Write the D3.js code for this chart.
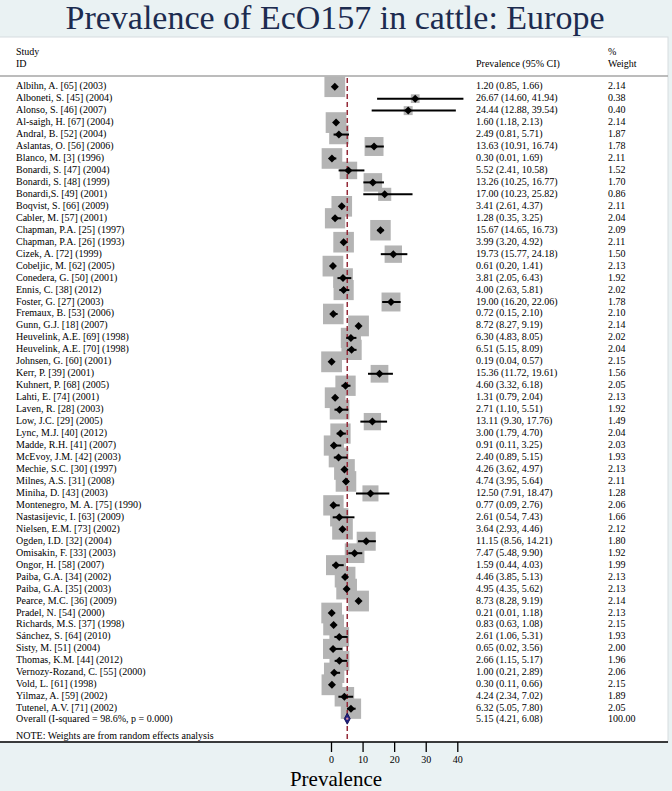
<!DOCTYPE html>
<html>
<head>
<meta charset="utf-8">
<script src="https://cdn.jsdelivr.net/npm/d3@7"></script>
<style>
  body { margin: 0; background: #eaf2f3; }
  svg { display: block; font-family: "Liberation Serif", "Times New Roman", serif; }
</style>
</head>
<body>
<div id="chart"></div>
<script>
const studies = [
  'Albihn, A. [65] (2003)', 'Alboneti, S. [45] (2004)', 'Alonso, S. [46] (2007)', 'Al-saigh, H. [67] (2004)',
  'Andral, B. [52] (2004)', 'Aslantas, O. [56] (2006)', 'Blanco, M. [3] (1996)', 'Bonardi, S. [47] (2004)',
  'Bonardi, S. [48] (1999)', 'Bonardi,S. [49] (2001)', 'Boqvist, S. [66] (2009)', 'Cabler, M. [57] (2001)',
  'Chapman, P.A. [25] (1997)', 'Chapman, P.A. [26] (1993)', 'Cizek, A. [72] (1999)', 'Cobeljic, M. [62] (2005)',
  'Conedera, G. [50] (2001)', 'Ennis, C. [38] (2012)', 'Foster, G. [27] (2003)', 'Fremaux, B. [53] (2006)',
  'Gunn, G.J. [18]  (2007)', 'Heuvelink, A.E. [69] (1998)', 'Heuvelink, A.E. [70] (1998)', 'Johnsen, G. [60] (2001)',
  'Kerr, P. [39] (2001)', 'Kuhnert, P. [68] (2005)', 'Lahti, E. [74] (2001)', 'Laven, R. [28] (2003)',
  'Low, J.C. [29] (2005)', 'Lync, M.J. [40] (2012)', 'Madde, R.H. [41] (2007)', 'McEvoy, J.M. [42] (2003)',
  'Mechie, S.C. [30] (1997)', 'Milnes, A.S. [31] (2008)', 'Miniha, D. [43] (2003)', 'Montenegro, M. A. [75] (1990)',
  'Nastasijevic, I. [63] (2009)', 'Nielsen, E.M. [73] (2002)', 'Ogden, I.D. [32] (2004)', 'Omisakin, F. [33] (2003)',
  'Ongor, H. [58] (2007)', 'Paiba, G.A. [34] (2002)', 'Paiba, G.A. [35] (2003)', 'Pearce, M.C. [36] (2009)',
  'Pradel, N. [54] (2000)', 'Richards, M.S. [37] (1998)', 'Sánchez, S. [64] (2010)', 'Sisty, M. [51] (2004)',
  'Thomas, K.M. [44] (2012)', 'Vernozy-Rozand, C. [55] (2000)', 'Vold, L. [61] (1998)', 'Yilmaz, A. [59] (2002)',
  'Tutenel, A.V. [71] (2002)'
];
const prevalence = [1.20, 26.67, 24.44, 1.60, 2.49, 13.63, 0.30, 5.52, 13.26, 17.00, 3.41, 1.28, 15.67, 3.99, 19.73, 0.61,
  3.81, 4.00, 19.00, 0.72, 8.72, 6.30, 6.51, 0.19, 15.36, 4.60, 1.31, 2.71, 13.11, 3.00, 0.91, 2.40, 4.26, 4.74, 12.50,
  0.77, 2.61, 3.64, 11.15, 7.47, 1.59, 4.46, 4.95, 8.73, 0.21, 0.83, 2.61, 0.65, 2.66, 1.00, 0.30, 4.24, 6.32];
const lower = [0.85, 14.60, 12.88, 1.18, 0.81, 10.91, 0.01, 2.41, 10.25, 10.23, 2.61, 0.35, 14.65, 3.20, 15.77, 0.20,
  2.05, 2.63, 16.20, 0.15, 8.27, 4.83, 5.15, 0.04, 11.72, 3.32, 0.79, 1.10, 9.30, 1.79, 0.11, 0.89, 3.62, 3.95, 7.91,
  0.09, 0.54, 2.93, 8.56, 5.48, 0.44, 3.85, 4.35, 8.28, 0.01, 0.63, 1.06, 0.02, 1.15, 0.21, 0.11, 2.34, 5.05];
const upper = [1.66, 41.94, 39.54, 2.13, 5.71, 16.74, 1.69, 10.58, 16.77, 25.82, 4.37, 3.25, 16.73, 4.92, 24.18, 1.41,
  6.43, 5.81, 22.06, 2.10, 9.19, 8.05, 8.09, 0.57, 19.61, 6.18, 2.04, 5.51, 17.76, 4.70, 3.25, 5.15, 4.97, 5.64, 18.47,
  2.76, 7.43, 4.46, 14.21, 9.90, 4.03, 5.13, 5.62, 9.19, 1.18, 1.08, 5.31, 3.56, 5.17, 2.89, 0.66, 7.02, 7.80];
const weights = [2.14, 0.38, 0.40, 2.14, 1.87, 1.78, 2.11, 1.52, 1.70, 0.86, 2.11, 2.04, 2.09, 2.11, 1.50, 2.13,
  1.92, 2.02, 1.78, 2.10, 2.14, 2.02, 2.04, 2.15, 1.56, 2.05, 2.13, 1.92, 1.49, 2.04, 2.03, 1.93, 2.13, 2.11, 1.28,
  2.06, 1.66, 2.12, 1.80, 1.92, 1.99, 2.13, 2.13, 2.14, 2.13, 2.15, 1.93, 2.00, 1.96, 2.06, 2.15, 1.89, 2.05];

const overallLabel = 'Overall  (I-squared = 98.6%, p = 0.000)';
const overall = { est: 5.15, lo: 4.21, hi: 6.08, weight: 100.00 };
const xTicks = [0, 10, 20, 30, 40];

const dimension = {
  width: 672,
  height: 791,
  plotTop: 37,
  plotRight: 668,
  axisY: 742
};

const fmt = v => v.toFixed(2);

const drawChart = () => {
  const data = studies.map((s, i) => ({
    id: s, est: prevalence[i], lo: lower[i], hi: upper[i], w: weights[i], row: i
  }));

  const svg = d3.select('#chart')
    .append('svg')
    .attr('width', dimension.width)
    .attr('height', dimension.height);

  // background bands
  svg.append('rect')
    .attr('width', dimension.width).attr('height', dimension.height)
    .attr('fill', '#eaf2f3');

  svg.append('rect')
    .attr('x', -1).attr('y', dimension.plotTop)
    .attr('width', dimension.plotRight + 1).attr('height', dimension.axisY - dimension.plotTop)
    .attr('fill', '#ffffff')
    .attr('stroke', '#d6dcdf');

  svg.append('text')
    .attr('x', 335).attr('y', 29)
    .attr('text-anchor', 'middle')
    .attr('font-size', 34)
    .attr('fill', '#1c2b4f')
    .text('Prevalence of EcO157 in cattle: Europe');

  const xScale = d3.scaleLinear().domain([0, 40]).range([331, 457.3]);
  const yScale = d3.scaleLinear().domain([0, studies.length - 1]).range([85.7, 707.7]);
  const boxSide = d3.scaleSqrt().domain([0, 2.15]).range([0, 20.8]);

  // headers
  const hdr = svg.append('g').attr('font-size', 10).attr('fill', '#000');
  hdr.append('text').attr('x', 16).attr('y', 55).text('Study');
  hdr.append('text').attr('x', 16).attr('y', 67).text('ID');
  hdr.append('text').attr('x', 476).attr('y', 67).text('Prevalence (95% CI)');
  hdr.append('text').attr('x', 608).attr('y', 55).text('%');
  hdr.append('text').attr('x', 608).attr('y', 67).text('Weight');

  svg.append('line')
    .attr('x1', 0).attr('x2', dimension.plotRight)
    .attr('y1', 76).attr('y2', 76)
    .attr('stroke', '#a6a6a6').attr('stroke-width', 1.5);

  // weight boxes
  svg.append('g')
    .selectAll('rect')
    .data(data)
    .join('rect')
    .attr('x', d => xScale(d.est) - boxSide(d.w) / 2)
    .attr('y', d => yScale(d.row) + 1 - boxSide(d.w) / 2)
    .attr('width', d => boxSide(d.w))
    .attr('height', d => boxSide(d.w))
    .attr('fill', '#b4b4b4');

  // reference line at overall estimate
  svg.append('line')
    .attr('x1', xScale(overall.est)).attr('x2', xScale(overall.est))
    .attr('y1', 78).attr('y2', dimension.axisY)
    .attr('stroke', '#952a38').attr('stroke-width', 1.5)
    .attr('stroke-dasharray', '5,3');

  // confidence intervals
  svg.append('g')
    .selectAll('line')
    .data(data)
    .join('line')
    .attr('x1', d => xScale(d.lo))
    .attr('x2', d => xScale(d.hi))
    .attr('y1', d => yScale(d.row) + 1)
    .attr('y2', d => yScale(d.row) + 1)
    .attr('stroke', '#000').attr('stroke-width', 2);

  // point estimates
  const dm = 4;
  svg.append('g')
    .selectAll('path')
    .data(data)
    .join('path')
    .attr('d', d => {
      const cx = xScale(d.est), cy = yScale(d.row) + 1;
      return `M${cx - dm},${cy}L${cx},${cy - dm}L${cx + dm},${cy}L${cx},${cy + dm}Z`;
    })
    .attr('fill', '#000');

  // overall diamond
  const oy = yScale(studies.length) - 1;
  svg.append('path')
    .attr('d', `M${xScale(overall.lo)},${oy}L${xScale(overall.est)},${oy - 5.5}L${xScale(overall.hi)},${oy}L${xScale(overall.est)},${oy + 5.5}Z`)
    .attr('fill', '#1f1f80')
    .attr('stroke', '#14145a').attr('stroke-width', 1);
  svg.append('circle')
    .attr('cx', xScale(overall.est)).attr('cy', oy)
    .attr('r', 1.2).attr('fill', '#d98aa0');

  // row texts
  const rows = svg.append('g').attr('font-size', 10).attr('fill', '#000');
  rows.selectAll('.sid')
    .data(data)
    .join('text')
    .attr('class', 'sid')
    .attr('x', 16)
    .attr('y', d => yScale(d.row) + 3.5)
    .text(d => d.id);
  rows.selectAll('.ci')
    .data(data)
    .join('text')
    .attr('class', 'ci')
    .attr('x', 476)
    .attr('y', d => yScale(d.row) + 3.5)
    .text(d => `${fmt(d.est)} (${fmt(d.lo)}, ${fmt(d.hi)})`);
  rows.selectAll('.wt')
    .data(data)
    .join('text')
    .attr('class', 'wt')
    .attr('x', 608)
    .attr('y', d => yScale(d.row) + 3.5)
    .text(d => fmt(d.w));

  rows.append('text').attr('x', 16).attr('y', oy + 3.5).text(overallLabel);
  rows.append('text').attr('x', 476).attr('y', oy + 3.5)
    .text(`${fmt(overall.est)} (${fmt(overall.lo)}, ${fmt(overall.hi)})`);
  rows.append('text').attr('x', 608).attr('y', oy + 3.5).text(fmt(overall.weight));
  rows.append('text').attr('x', 16).attr('y', 739).text('NOTE: Weights are from random effects analysis');

  // x axis
  const axis = svg.append('g')
    .attr('transform', `translate(0, ${dimension.axisY})`)
    .call(d3.axisBottom(xScale).tickValues(xTicks).tickSize(10).tickPadding(4));
  axis.select('.domain').remove();
  axis.selectAll('.tick line').attr('stroke-width', 1.3);
  axis.selectAll('.tick text')
    .attr('font-family', '"Liberation Serif", serif')
    .attr('font-size', 10);

  svg.append('line')
    .attr('x1', 0).attr('x2', dimension.plotRight)
    .attr('y1', dimension.axisY).attr('y2', dimension.axisY)
    .attr('stroke', '#000').attr('stroke-width', 1.3);

  svg.append('text')
    .attr('x', 336).attr('y', 786)
    .attr('text-anchor', 'middle')
    .attr('font-size', 21)
    .attr('fill', '#000')
    .text('Prevalence');
}

drawChart()
</script>
</body>
</html>
